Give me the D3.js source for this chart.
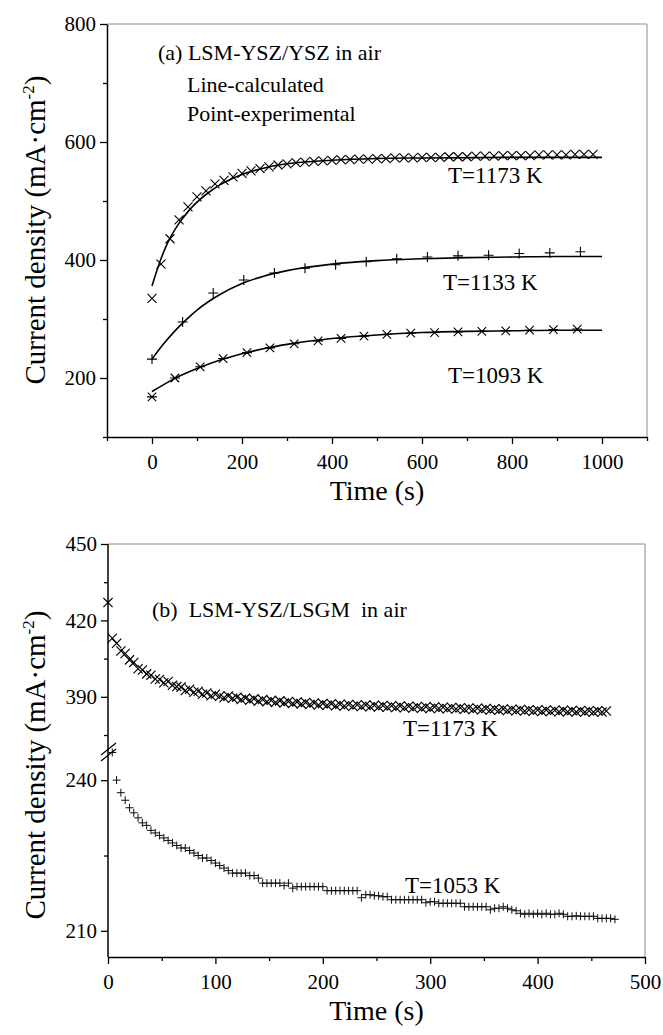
<!DOCTYPE html>
<html>
<head>
<meta charset="utf-8">
<script src="https://cdn.jsdelivr.net/npm/d3@7"></script>
<style>
  body { margin: 0; background: #fff; }
  svg text { font-family: "Liberation Serif", "Times New Roman", serif; fill: #000; }
</style>
</head>
<body>
<svg id="chart" width="663" height="1035" font-family="Liberation Serif"></svg>
<script>
// ---- panel (a): LSM-YSZ/YSZ in air ----
const tA1173 = [0,20,40,60,80,100,120,140,160,180,200,220,240,260,280,300,320,340,360,380,400,420,440,460,480,500,520,540,560,580,600,620,640,660,680,700,720,740,760,780,800,820,840,860,880,900,920,940,960,980];
const vA1173 = [335,393,436,468,490,507,517,529,535,541,547,551,555,558,561,563,565,566,567,568,569,570,570,571,571,572,572,573,573,573,574,574,574,575,575,575,576,576,576,577,577,577,577,578,578,578,578,579,579,579];
const calcT1173 = [0,10,20,30,40,60,80,100,125,150,200,250,300,400,500,600,800,1000];
const calcV1173 = [356,380,402,421,437,462,482,498,514,527,545,556,563,569,572,573,574,574];

const tA1133 = [0,68,136,204,272,340,408,476,544,612,680,748,816,884,952];
const vA1133 = [232,295,344,366,378,386,392,397,402,405,407,408,411,412,414];
const calcT1133 = [0,25,50,75,100,150,200,250,300,400,500,600,700,800,900,1000];
const calcV1133 = [232,257,279,298,315,341,360,373,382,393,399,402,404,405,406,406];

const tA1093 = [0,51,107,158,211,262,316,369,420,471,522,575,628,680,733,786,839,892,945];
const vA1093 = [168,200,219,233,243,251,258,263,267,271,274,276,277,278,279,280,281,282,283];
const calcT1093 = [0,50,100,150,200,250,300,400,500,600,700,800,900,1000];
const calcV1093 = [177,199,216,230,241,250,257,267,273,277,279,280,281,281];

const xTicksA = [0,200,400,600,800,1000];
const xMinorA = [-100,100,300,500,700,900,1100];
const yTicksA = [200,400,600,800];
const yMinorA = [100,300,500,700];

// ---- panel (b): LSM-YSZ/LSGM in air, sampled every 4 s ----
const dtB = 4;
const t0B1173 = 0;
const vB1173 = [427,413,411,408,407,404.5,403.5,401,400.5,399,398.5,397,396.8,395.5,396,394.5,394,393.8,392.5,393,
  391.8,392.2,391,391.5,390.4,391,390.2,389.6,390.3,389.4,389.8,388.9,389.5,388.6,389.2,388.3,388.9,388.1,388.6,387.8,
  388.4,387.6,388.2,387.4,388,387.2,387.8,387,387.6,386.8,387.4,386.7,387.3,386.5,387.1,386.4,387,386.3,386.9,386.2,
  386.8,386.1,386.7,386,386.6,385.9,386.5,385.8,386.4,385.7,386.3,385.6,386.2,385.5,386.1,385.4,386,385.4,385.9,385.3,
  385.8,385.2,385.7,385.1,385.6,385,385.5,384.9,385.4,384.8,385.3,384.7,385.2,384.6,385.1,384.5,385,384.4,384.9,384.3,
  384.8,384.2,384.8,384.2,384.7,384.1,384.7,384.1,384.6,384,384.6,384,384.5,384,384.5,384,384.4];
const t0B1053 = 4;
const vB1053 = [245.5,240,237.5,236,234.5,233.5,232.5,231.5,231,230,229.5,229,228.5,228,227.5,227,226.5,226.5,226,225.5,
  225,224.5,224.5,224,223.5,223,222.5,222,221.5,221.5,221.5,221.5,221,221,220.5,219.5,219.5,219.5,219.5,219.5,
  219,219.5,218.5,218.8,218.8,218.8,218.8,218.8,218.8,218.8,218,218,218,218,218,218,218,218,216.6,217.2,
  217.2,217,217,216.8,216.8,216.2,216.2,216.2,216.2,216.2,216.2,216.2,216.2,215.6,215.8,215.8,215.5,215.5,215.5,215.5,
  215.5,215.5,214.8,214.8,214.8,214.8,214.8,214.8,214.2,214.5,214.5,214.8,214.5,214.2,214,213.5,213.3,213.5,213.3,213.5,
  213.3,213.5,213.3,213.3,213.5,213.3,212.9,212.9,213,212.9,212.9,212.9,212.9,212.5,212.5,212.5,212.5,212.3];

const xTicksB = [0,100,200,300,400,500];
const xMinorB = [50,150,250,350,450];
const yTicksBUp = [390,420,450];
const yMinorBUp = [375,405,435];
const yTicksBLow = [210,240];
const yMinorBLow = [225];

const FONT = '"Liberation Serif", "Times New Roman", serif';
const svg = d3.select('#chart');
const frameColor = '#8c8c8c';

// marker shapes
function cross(s) { return `M${-s},${-s}L${s},${s}M${-s},${s}L${s},${-s}`; }
function plus(s) { return `M${-s},0L${s},0M0,${-s}L0,${s}`; }
function star(s) { return cross(s * 0.85) + `M${-s},0L${s},0`; }

function drawMarkers(g, pts, x, y, shape, size, width) {
  g.append('g')
    .selectAll('path')
    .data(pts)
    .enter()
    .append('path')
    .attr('d', shape(size))
    .attr('transform', d => `translate(${x(d[0])},${y(d[1])})`)
    .attr('fill', 'none')
    .attr('stroke', '#000')
    .attr('stroke-width', width);
}

function styleAxis(g) {
  g.attr('font-family', FONT).attr('font-size', 21);
  g.selectAll('.domain').attr('stroke', '#000').attr('stroke-width', 1.5);
  g.selectAll('.tick line').attr('stroke', '#000').attr('stroke-width', 1.3);
  g.selectAll('.tick text').style('font-size', '21px').style('font-family', FONT);
}

function label(x, y, size, txt) {
  return svg.append('text').attr('x', x).attr('y', y)
    .style('font-size', size + 'px').style('font-family', FONT).text(txt);
}

function yTitle(cx, cy) {
  const t = svg.append('text')
    .attr('transform', `translate(${cx},${cy}) rotate(-90)`)
    .attr('text-anchor', 'middle')
    .style('font-family', FONT)
    .style('font-size', '29px');
  t.append('tspan').text('Current density (mA·cm');
  t.append('tspan').attr('dy', -11).style('font-size', '17px').text('-2');
  t.append('tspan').attr('dy', 11).text(')');
}

const fmt = d3.format('d');

// ================= panel (a) =================
const xA = d3.scaleLinear().domain([-100, 1100]).range([107, 647]);
const yA = d3.scaleLinear().domain([100, 800]).range([437, 24]);

svg.append('path')
  .attr('d', `M${xA(-100)},${yA(800)}L${xA(1100)},${yA(800)}L${xA(1100)},${yA(100)}`)
  .attr('fill', 'none').attr('stroke', frameColor).attr('stroke-width', 1);

const axA = svg.append('g').attr('transform', `translate(0,${yA(100)})`);
axA.call(d3.axisBottom(xA).tickValues(xTicksA).tickFormat(fmt).tickSize(7).tickSizeOuter(0).tickPadding(10));
styleAxis(axA);
const axAm = svg.append('g').attr('transform', `translate(0,${yA(100)})`);
axAm.call(d3.axisBottom(xA).tickValues(xMinorA).tickSize(4).tickFormat(''));
axAm.select('.domain').remove();
styleAxis(axAm);

const ayA = svg.append('g').attr('transform', `translate(${xA(-100)},0)`);
ayA.call(d3.axisLeft(yA).tickValues(yTicksA).tickFormat(fmt).tickSize(7).tickSizeOuter(0).tickPadding(4));
styleAxis(ayA);
const ayAm = svg.append('g').attr('transform', `translate(${xA(-100)},0)`);
ayAm.call(d3.axisLeft(yA).tickValues(yMinorA).tickSize(4).tickFormat(''));
ayAm.select('.domain').remove();
styleAxis(ayAm);

const lineA = d3.line().x(d => xA(d[0])).y(d => yA(d[1])).curve(d3.curveMonotoneX);
[[calcT1173, calcV1173], [calcT1133, calcV1133], [calcT1093, calcV1093]].forEach(([t, v]) => {
  svg.append('path')
    .attr('d', lineA(t.map((d, i) => [d, v[i]])))
    .attr('fill', 'none').attr('stroke', '#000').attr('stroke-width', 1.6);
});

drawMarkers(svg, tA1173.map((d, i) => [d, vA1173[i]]), xA, yA, cross, 4.5, 1.1);
drawMarkers(svg, tA1133.map((d, i) => [d, vA1133[i]]), xA, yA, plus, 5, 1.1);
drawMarkers(svg, tA1093.map((d, i) => [d, vA1093[i]]), xA, yA, star, 5, 1.1);

label(158, 60, 22, '(a) LSM-YSZ/YSZ in air');
label(187, 92, 22, 'Line-calculated');
label(187, 121, 22, 'Point-experimental');
label(448, 183, 23, 'T=1173 K');
label(443, 290, 23, 'T=1133 K');
label(448, 383, 23, 'T=1093 K');

label((xA(-100) + xA(1100)) / 2, 500, 28, 'Time (s)').attr('text-anchor', 'middle');
yTitle(45, 230);

// ================= panel (b) =================
const xB = d3.scaleLinear().domain([0, 500]).range([108, 645]);
const yBUp = d3.scaleLinear().domain([375, 450]).range([735, 544]);
const yBLow = d3.scaleLinear().domain([204.8, 246]).range([957, 750]);
const bottomB = yBLow(204.8);

svg.append('path')
  .attr('d', `M${xB(0)},${yBUp(450)}L${xB(500)},${yBUp(450)}L${xB(500)},${bottomB}`)
  .attr('fill', 'none').attr('stroke', frameColor).attr('stroke-width', 1);

const axB = svg.append('g').attr('transform', `translate(0,${bottomB})`);
axB.call(d3.axisBottom(xB).tickValues(xTicksB).tickFormat(fmt).tickSize(7).tickSizeOuter(0).tickPadding(10));
styleAxis(axB);
const axBm = svg.append('g').attr('transform', `translate(0,${bottomB})`);
axBm.call(d3.axisBottom(xB).tickValues(xMinorB).tickSize(4).tickFormat(''));
axBm.select('.domain').remove();
styleAxis(axBm);

// broken y axis: one spine, two scales
svg.append('line')
  .attr('x1', xB(0)).attr('x2', xB(0)).attr('y1', yBUp(450)).attr('y2', bottomB)
  .attr('stroke', '#000').attr('stroke-width', 1.5);
[[yBUp, yTicksBUp, yMinorBUp], [yBLow, yTicksBLow, yMinorBLow]].forEach(([sc, maj, mnr]) => {
  const g1 = svg.append('g').attr('transform', `translate(${xB(0)},0)`);
  g1.call(d3.axisLeft(sc).tickValues(maj).tickFormat(fmt).tickSize(7).tickPadding(4));
  g1.select('.domain').remove();
  styleAxis(g1);
  const g2 = svg.append('g').attr('transform', `translate(${xB(0)},0)`);
  g2.call(d3.axisLeft(sc).tickValues(mnr).tickSize(4).tickFormat(''));
  g2.select('.domain').remove();
  styleAxis(g2);
});
// break marks
[0, 6].forEach(off => {
  svg.append('line')
    .attr('x1', xB(0) - 7).attr('y1', 755 + off)
    .attr('x2', xB(0) + 8).attr('y2', 743 + off)
    .attr('stroke', '#000').attr('stroke-width', 1.3);
});

drawMarkers(svg, vB1173.map((v, i) => [t0B1173 + i * dtB, v]), xB, yBUp, cross, 4.6, 1.15);
drawMarkers(svg, vB1053.map((v, i) => [t0B1053 + i * dtB, v]), xB, yBLow, plus, 4, 0.95);

label(152, 617, 22, '(b)  LSM-YSZ/LSGM  in air').style('white-space', 'pre');
label(403, 736, 23, 'T=1173 K');
label(405, 893, 23, 'T=1053 K');

label((xB(0) + xB(500)) / 2, 1020, 28, 'Time (s)').attr('text-anchor', 'middle');
yTitle(45, 765);
</script>
</body>
</html>
